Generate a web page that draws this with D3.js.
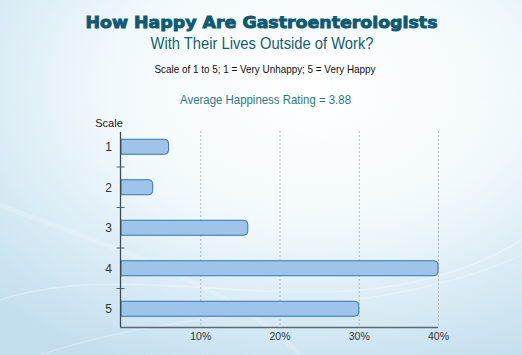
<!DOCTYPE html>
<html><head><meta charset="utf-8">
<script src="https://cdn.jsdelivr.net/npm/d3@7"></script>
<style>html,body{margin:0;padding:0;overflow:hidden;background:#fff}</style>
</head><body>
<svg id="c" width="522" height="355"></svg>
<script>
const categories = ["1", "2", "3", "4", "5"];
const values = [6, 4, 16, 40, 30];
const tickValues = [10, 20, 30, 40];
const tickLabels = ["10%", "20%", "30%", "40%"];

const svg = d3.select("#c");
const defs = svg.append("defs");
const bg = defs.append("radialGradient").attr("id","bg")
  .attr("cx","0.6").attr("cy","0.25").attr("r","0.85");
bg.append("stop").attr("offset","0").attr("stop-color","#ffffff");
bg.append("stop").attr("offset","0.45").attr("stop-color","#f2f9fc");
bg.append("stop").attr("offset","1").attr("stop-color","#c3dfee");
svg.append("rect").attr("width",522).attr("height",355).attr("fill","url(#bg)");
// faint swooshes
const sw = svg.append("g").attr("fill","none").attr("stroke","#ffffff");
sw.append("path").attr("d","M0,300 C150,250 350,345 522,240").attr("stroke-opacity",0.3).attr("stroke-width",1.5);
sw.append("path").attr("d","M40,355 C200,300 380,320 522,255").attr("stroke-opacity",0.25).attr("stroke-width",1.2);
sw.append("path").attr("d","M0,205 C120,250 240,290 300,355").attr("stroke-opacity",0.18).attr("stroke-width",5);

const x = d3.scaleLinear().domain([0, 40]).range([121, 438]);
const y = d3.scaleBand().domain(categories).range([126.5, 329]).paddingInner(0.63).paddingOuter(0.315);

// titles
svg.append("text").attr("x",261.5).attr("y",27.5).attr("text-anchor","middle")
  .attr("font-family","'DejaVu Sans', sans-serif").attr("font-weight","bold")
  .attr("font-size",15.5).attr("fill","#0d5a74").attr("stroke","#0d5a74").attr("stroke-width",0.9)
  .attr("textLength",352).attr("lengthAdjust","spacingAndGlyphs")
  .text("How Happy Are Gastroenterologists");
svg.append("text").attr("x",262).attr("y",49).attr("text-anchor","middle")
  .attr("font-family","'Liberation Sans', Arial, sans-serif")
  .attr("font-size",16).attr("fill","#175f73").attr("textLength",223).attr("lengthAdjust","spacingAndGlyphs")
  .text("With Their Lives Outside of Work?");
svg.append("text").attr("x",265).attr("y",73).attr("text-anchor","middle")
  .attr("font-family","'Liberation Sans Narrow', 'Liberation Sans', Arial, sans-serif")
  .attr("font-size",11).attr("fill","#111").attr("textLength",221).attr("lengthAdjust","spacingAndGlyphs")
  .text("Scale of 1 to 5; 1 = Very Unhappy; 5 = Very Happy");
svg.append("text").attr("x",265.5).attr("y",104).attr("text-anchor","middle")
  .attr("font-family","'Liberation Sans Narrow', 'Liberation Sans', Arial, sans-serif")
  .attr("font-size",13).attr("fill","#2a7b88").attr("textLength",171).attr("lengthAdjust","spacingAndGlyphs")
  .text("Average Happiness Rating = 3.88");

// gridlines
svg.append("g").selectAll("line").data(tickValues).join("line")
  .attr("x1",d=>x(d)+0.5).attr("x2",d=>x(d)+0.5).attr("y1",131).attr("y2",327)
  .attr("stroke","#b4b8bb").attr("stroke-width",1).attr("stroke-dasharray","2,2");

// bars: square at the axis, rounded at the end
const r = 4;
svg.append("g").selectAll("path").data(values).join("path")
  .attr("d",(d,i)=>{
    const x0 = x(0), x1 = x(d), y0 = y(categories[i]), h = y.bandwidth();
    return `M${x0},${y0} H${x1-r} Q${x1},${y0} ${x1},${y0+r} V${y0+h-r} Q${x1},${y0+h} ${x1-r},${y0+h} H${x0} Z`;
  })
  .attr("fill","#9ec4e9").attr("stroke","#2e77b6").attr("stroke-width",1);

// y axis
const ax = svg.append("g");
ax.append("line").attr("x1",120.5).attr("x2",120.5).attr("y1",132).attr("y2",327.5)
  .attr("stroke","#3a4a55").attr("stroke-width",1.3);
ax.append("line").attr("x1",120).attr("x2",x(40)).attr("y1",327.5).attr("y2",327.5)
  .attr("stroke","#5a6a75").attr("stroke-width",1.3);
// band-boundary ticks
ax.selectAll("line.t").data(categories.slice(1)).join("line").attr("class","t")
  .attr("x1",116.5).attr("x2",124.5)
  .attr("y1",d=>y(d)-y.step()*y.paddingInner()/2).attr("y2",d=>y(d)-y.step()*y.paddingInner()/2)
  .attr("stroke","#55606a").attr("stroke-width",1);
ax.selectAll("text.c").data(categories).join("text").attr("class","c")
  .attr("x",112).attr("y",d=>y(d)+y.bandwidth()/2+4.5).attr("text-anchor","end")
  .attr("font-family","'Liberation Sans', Arial, sans-serif").attr("font-size",12).attr("fill","#333")
  .text(d=>d);
svg.append("text").attr("x",109).attr("y",127).attr("text-anchor","middle")
  .attr("font-family","'Liberation Sans Narrow', 'Liberation Sans', Arial, sans-serif")
  .attr("font-size",11).attr("fill","#222").text("Scale");
// x labels
svg.append("g").selectAll("text").data(tickValues).join("text")
  .attr("x",d=>x(d)+0.5).attr("y",340).attr("text-anchor","middle")
  .attr("font-family","'Liberation Sans Narrow', 'Liberation Sans', Arial, sans-serif")
  .attr("font-size",10.5).attr("fill","#333")
  .text((d,i)=>tickLabels[i]);
</script>
</body></html>
